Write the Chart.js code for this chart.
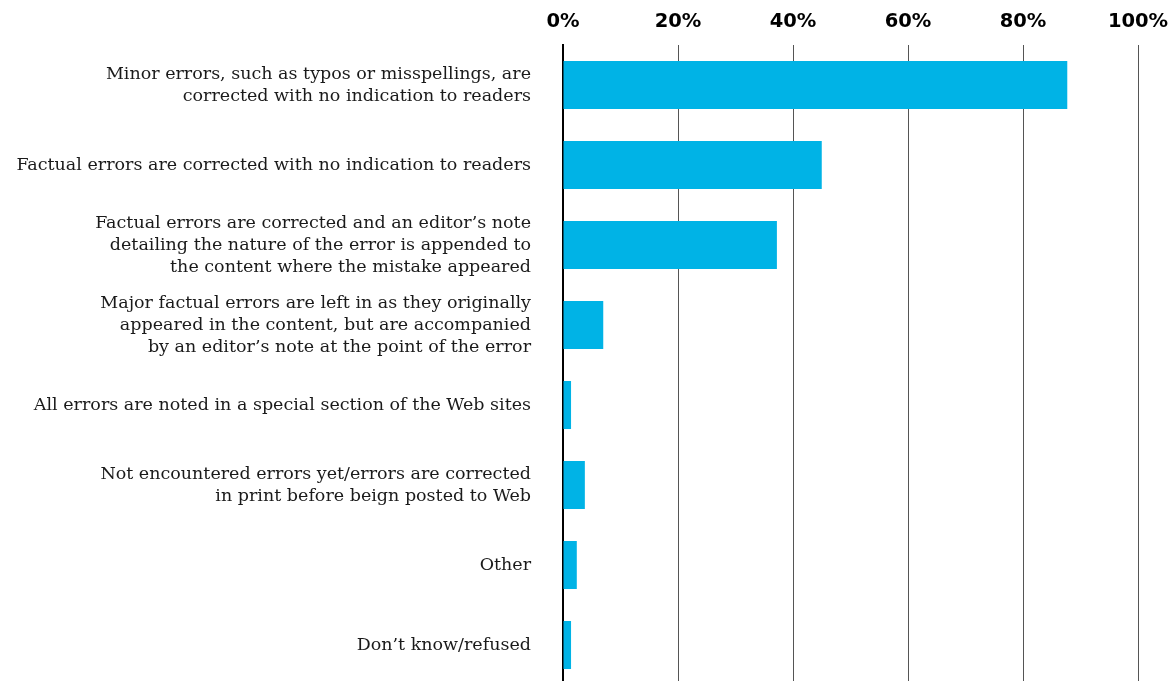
<!DOCTYPE html>
<html>
<head>
<meta charset="utf-8">
<script src="https://cdn.jsdelivr.net/npm/chart.js@4"></script>
<style>
  html, body { margin: 0; padding: 0; background: #fff; overflow: hidden; }
  #wrap { position: relative; width: 1172px; height: 685px; }
</style>
</head>
<body>
<div id="wrap"><canvas id="c" width="1172" height="685"></canvas></div>
<script>
const categories = [
  ["Minor errors, such as typos or misspellings, are", "corrected with no indication to readers"],
  "Factual errors are corrected with no indication to readers",
  ["Factual errors are corrected and an editor\u2019s note", "detailing the nature of the error is appended to", "the content where the mistake appeared"],
  ["Major factual errors are left in as they originally", "appeared in the content, but are accompanied", "by an editor\u2019s note at the point of the error"],
  "All errors are noted in a special section of the Web sites",
  ["Not encountered errors yet/errors are corrected", "in print before beign posted to Web"],
  "Other",
  "Don\u2019t know/refused"
];
const shares = [87.7, 45.0, 37.2, 7.0, 1.4, 3.8, 2.4, 1.4];
const xTicks = [0, 20, 40, 60, 80, 100];

new Chart(document.getElementById('c'), {
  type: 'bar',
  data: {
    labels: categories,
    datasets: [{
      data: shares,
      backgroundColor: '#00b3e6',
      borderWidth: 0,
      barPercentage: 0.6,
      categoryPercentage: 1.0
    }]
  },
  options: {
    indexAxis: 'y',
    responsive: false,
    animation: false,
    layout: { padding: { left: 0, right: 34, top: 0, bottom: 0 } },
    plugins: { legend: { display: false }, tooltip: { enabled: false } },
    scales: {
      x: {
        position: 'top',
        min: 0, max: 100,
        afterBuildTicks: (s) => { s.ticks = xTicks.map(v => ({ value: v })); },
        afterFit: (s) => { s.height = 45; s.paddingLeft = 0; s.paddingRight = 0; },
        grid: { color: '#555', lineWidth: 1, drawTicks: false },
        border: { display: false },
        ticks: {
          padding: 11,
          color: '#000',
          font: { family: 'DejaVu Sans', size: 19.5, weight: 'bold' },
          callback: (v) => v + '%'
        }
      },
      y: {
        afterFit: (s) => { s.width = 563; s.paddingTop = 0; s.paddingBottom = 0; },
        grid: { display: false, drawTicks: false },
        border: { display: true, color: '#000', width: 2 },
        ticks: {
          padding: 32,
          color: '#1a1a1a',
          autoSkip: false,
          font: { family: 'DejaVu Serif', size: 17.5, lineHeight: 1.257 }
        }
      }
    }
  }
});
</script>
</body>
</html>
